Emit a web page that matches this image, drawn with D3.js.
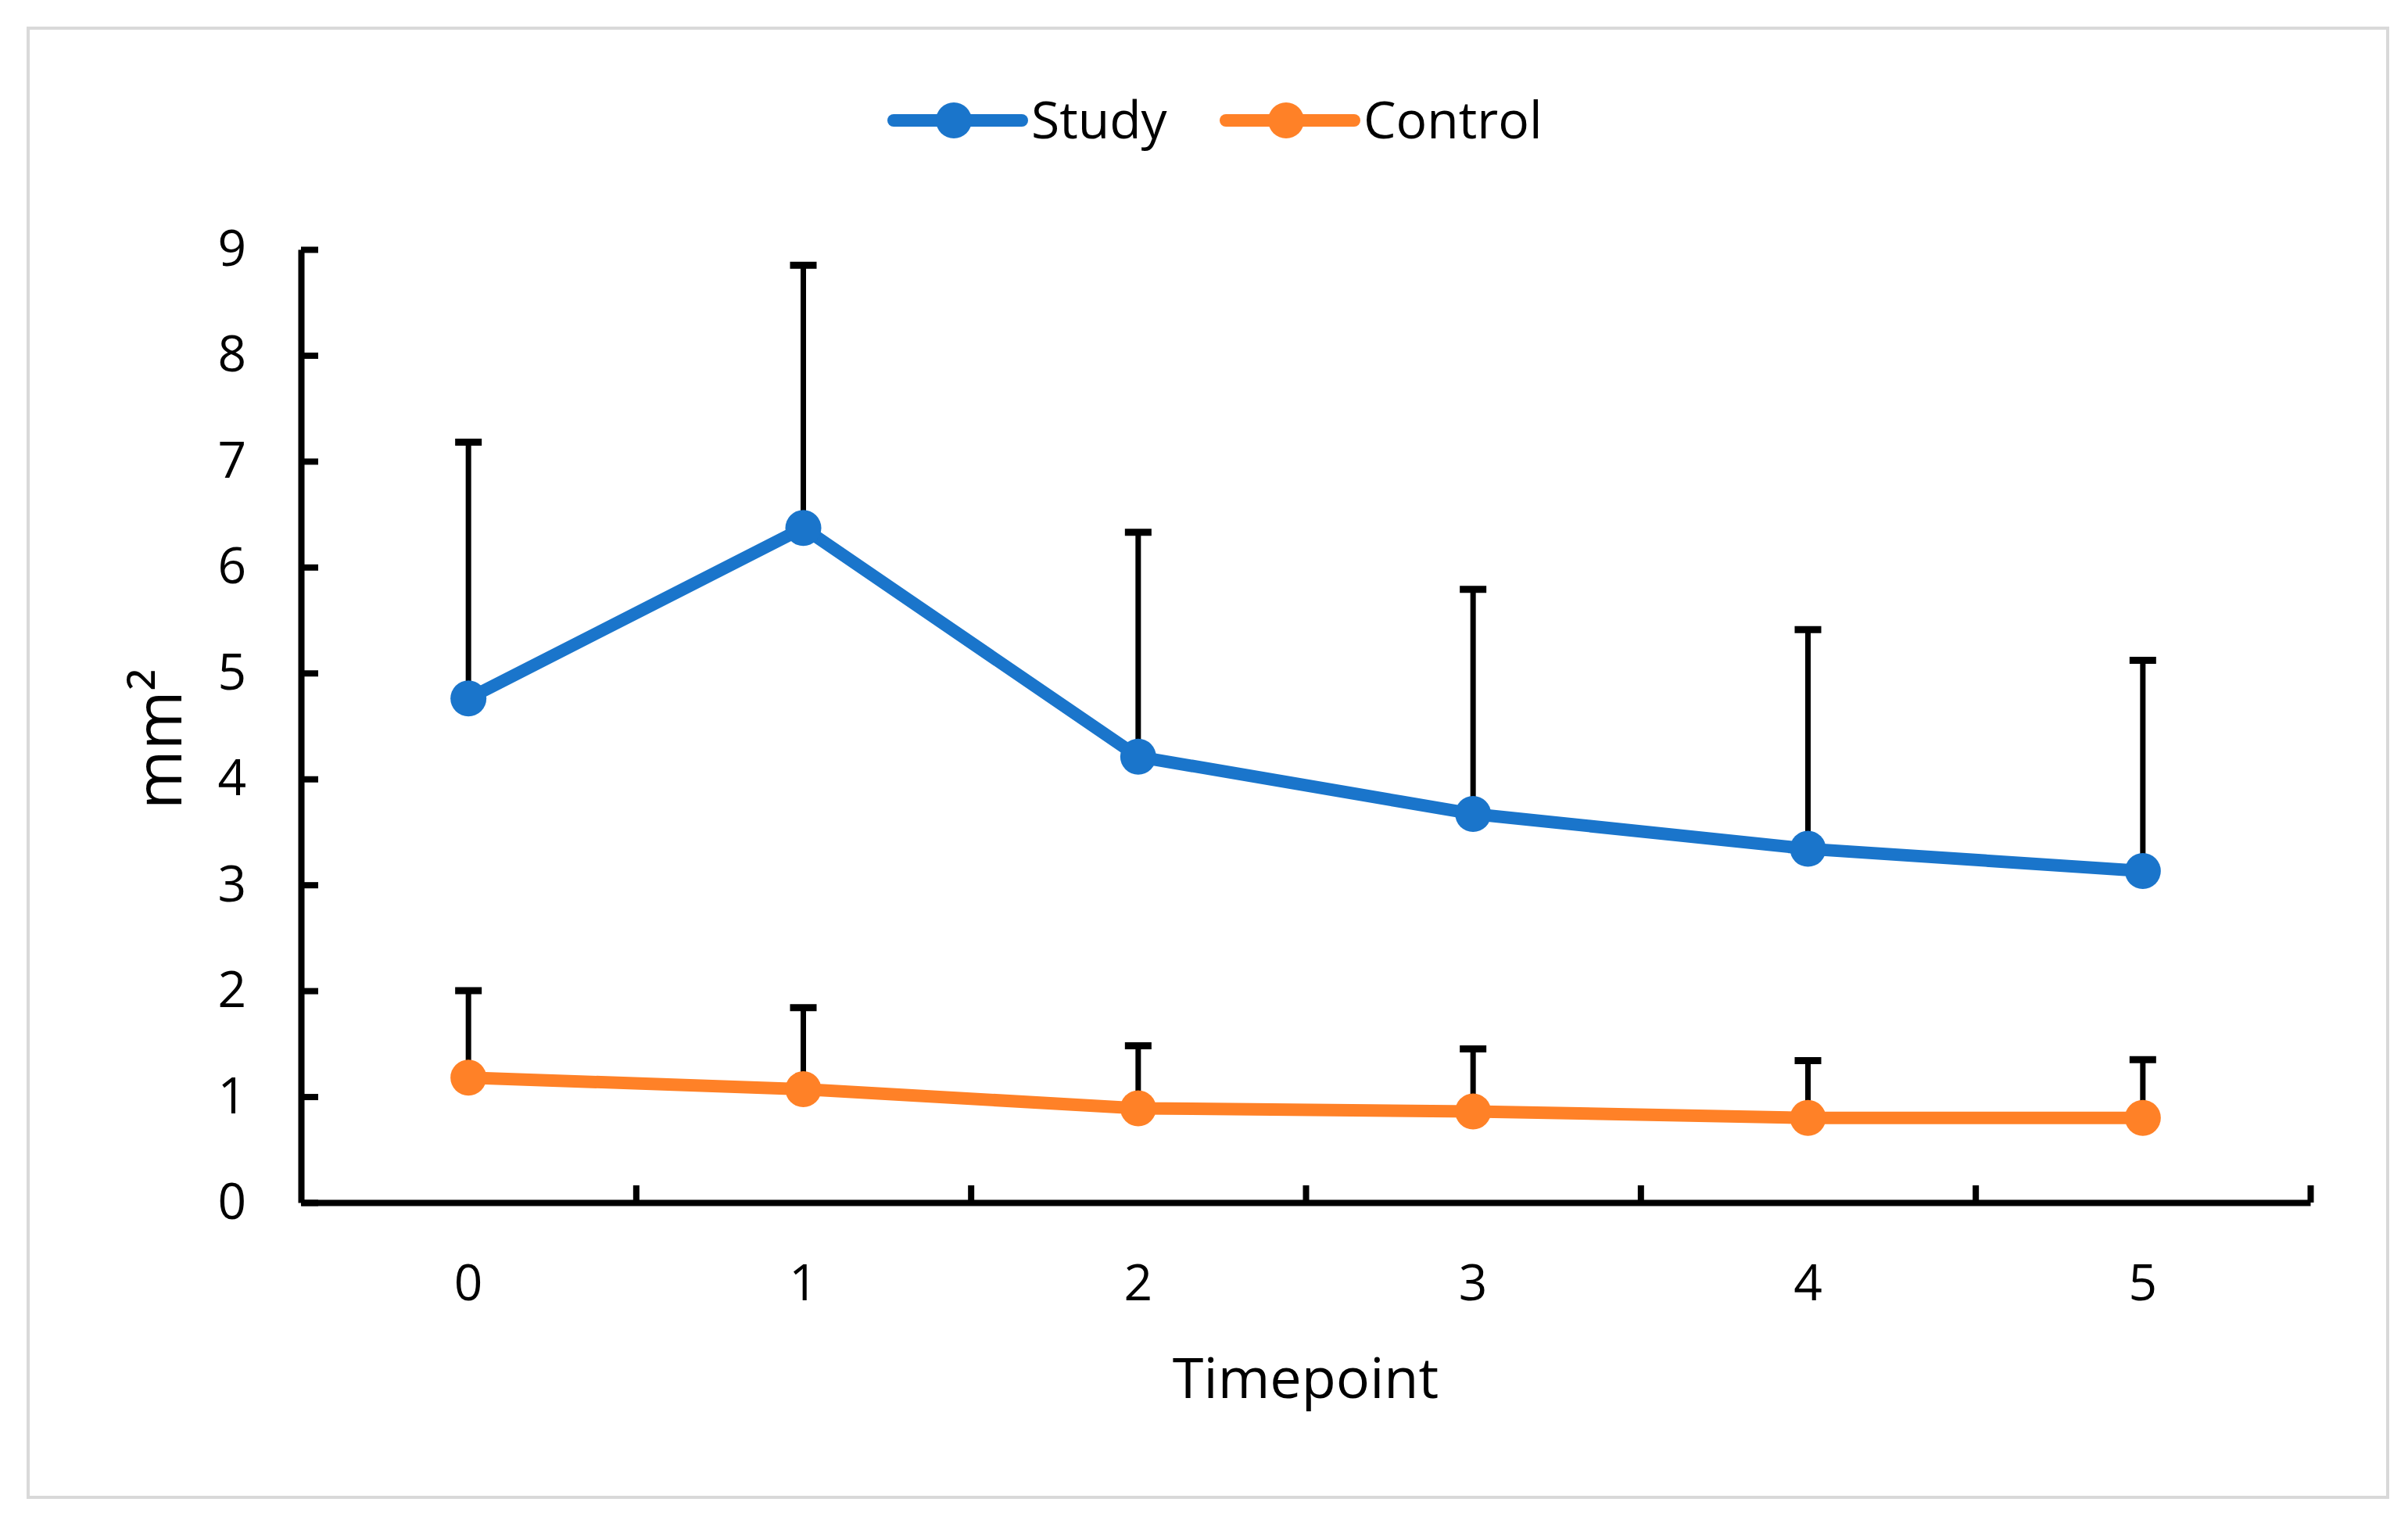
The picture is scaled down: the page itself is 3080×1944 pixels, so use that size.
<!DOCTYPE html>
<html>
<head>
<meta charset="utf-8">
<script src="https://cdn.jsdelivr.net/npm/d3@7"></script>
<style>
  html, body { margin: 0; padding: 0; background: #fff; }
  svg text { font-family: 'Open Sans', sans-serif; fill: #000; }
</style>
</head>
<body>
<div id="chart"></div>
<script>
const timepoints = ['0', '1', '2', '3', '4', '5'];
const studyMean = [4.76, 6.37, 4.21, 3.67, 3.34, 3.13];
const studyErr = [2.42, 2.48, 2.12, 2.12, 2.07, 1.99];
const controlMean = [1.18, 1.07, 0.89, 0.86, 0.80, 0.80];
const controlErr = [0.82, 0.77, 0.59, 0.59, 0.54, 0.55];
const yTicks = [0, 1, 2, 3, 4, 5, 6, 7, 8, 9];

const series = [
  { name: 'Study', color: '#1a75cb', mean: studyMean, err: studyErr },
  { name: 'Control', color: '#ff8127', mean: controlMean, err: controlErr },
];

const width = 3080, height = 1944;
const plot = { left: 385, right: 2955, top: 319, bottom: 1538 };

const svg = d3.select('#chart')
  .append('svg')
  .attr('width', width)
  .attr('height', height);

// outer frame
svg.append('rect')
  .attr('x', 36).attr('y', 36)
  .attr('width', 3018).attr('height', 1879)
  .attr('fill', '#fff')
  .attr('stroke', '#d9d9d9')
  .attr('stroke-width', 4);

const x = d3.scaleBand().domain(timepoints).range([plot.left, plot.right]).padding(0);
const xEdge = d3.scaleLinear().domain([0, timepoints.length]).range([plot.left, plot.right]);
const y = d3.scaleLinear().domain([0, 9]).range([plot.bottom, plot.top]);
const cx = (i) => x(timepoints[i]) + x.bandwidth() / 2;

// y axis, ticks pointing inward
const yAxis = svg.append('g')
  .attr('transform', `translate(${plot.left},0)`)
  .call(d3.axisLeft(y).tickValues(yTicks).tickSize(-22).tickPadding(70).tickSizeOuter(0));
yAxis.select('.domain').attr('stroke-width', 8);
yAxis.selectAll('.tick line').attr('stroke-width', 8);
yAxis.selectAll('.tick text').attr('font-size', 64);

// x axis line + boundary ticks
const xAxis = svg.append('g')
  .attr('transform', `translate(0,${plot.bottom})`)
  .call(d3.axisBottom(xEdge).tickValues(d3.range(1, timepoints.length + 1)).tickSize(-22).tickSizeOuter(0).tickFormat(''));
xAxis.select('.domain').attr('stroke-width', 8);
xAxis.selectAll('.tick line').attr('stroke-width', 8);

// category labels
const xLabels = svg.append('g')
  .attr('transform', `translate(0,${plot.bottom})`)
  .call(d3.axisBottom(x).tickSize(0).tickPadding(80));
xLabels.select('.domain').remove();
xLabels.selectAll('.tick text').attr('font-size', 64);

// axis titles
svg.append('text')
  .attr('x', (plot.left + plot.right) / 2)
  .attr('y', 1788)
  .attr('text-anchor', 'middle')
  .attr('font-size', 72)
  .text('Timepoint');

svg.append('text')
  .attr('transform', 'translate(232,945) rotate(-90)')
  .attr('text-anchor', 'middle')
  .attr('font-size', 82)
  .text('mm²');

// error bars (plus direction only)
series.forEach((s) => {
  const g = svg.append('g');
  s.mean.forEach((m, i) => {
    g.append('line')
      .attr('x1', cx(i)).attr('x2', cx(i))
      .attr('y1', y(m)).attr('y2', y(m + s.err[i]))
      .attr('stroke', '#000').attr('stroke-width', 7);
    g.append('line')
      .attr('x1', cx(i) - 17).attr('x2', cx(i) + 17)
      .attr('y1', y(m + s.err[i])).attr('y2', y(m + s.err[i]))
      .attr('stroke', '#000').attr('stroke-width', 9);
  });
});

// lines and markers
const line = d3.line().x((d, i) => cx(i)).y((d) => y(d));
series.forEach((s) => {
  svg.append('path')
    .datum(s.mean)
    .attr('d', line)
    .attr('fill', 'none')
    .attr('stroke', s.color)
    .attr('stroke-width', 16)
    .attr('stroke-linejoin', 'round');
  svg.append('g')
    .selectAll('circle')
    .data(s.mean)
    .join('circle')
    .attr('cx', (d, i) => cx(i))
    .attr('cy', (d) => y(d))
    .attr('r', 23)
    .attr('fill', s.color);
});

// legend
const legendX = [1135, 1560];
const legend = svg.append('g');
series.forEach((s, i) => {
  const g = legend.append('g').attr('transform', `translate(${legendX[i]},154)`);
  g.append('line')
    .attr('x1', 8).attr('x2', 172)
    .attr('stroke', s.color).attr('stroke-width', 16).attr('stroke-linecap', 'round');
  g.append('circle').attr('cx', 85).attr('r', 23).attr('fill', s.color);
  g.append('text')
    .attr('x', 184)
    .attr('dy', '0.35em')
    .attr('font-size', 66)
    .text(s.name);
});
</script>
</body>
</html>
